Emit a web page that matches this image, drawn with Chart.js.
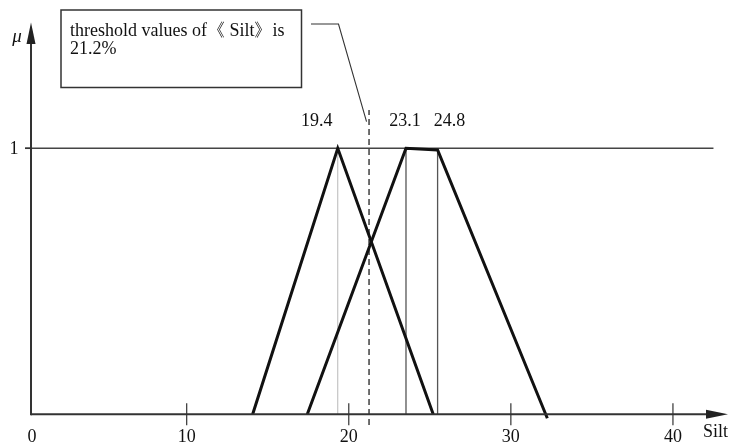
<!DOCTYPE html>
<html>
<head>
<meta charset="utf-8">
<style>
  html, body { margin: 0; padding: 0; background: #fff; }
  #wrap { width: 730px; height: 443px; position: relative; }
</style>
<script src="https://cdn.jsdelivr.net/npm/chart.js@4.4.1/dist/chart.umd.min.js"></script>
</head>
<body>
<div id="wrap"><canvas id="c" width="730" height="443"></canvas></div>
<script>
// ---- data ----
const tri1X = [14.07, 19.32, 25.21];
const tri1Y = [0, 1, 0];
const trapX = [17.44, 23.53, 25.48, 32.25];
const trapY = [0, 1, 0.994, -0.015];
const peakX = [19.32, 23.53, 25.48];
const peakLabels = ['19.4', '23.1', '24.8'];
const thresholdX = 21.25;
const xTicks = [10, 20, 30, 40];
const xTickLabels = ['10', '20', '30', '40'];
const yTicks = [1];
const yTickLabels = ['1'];
const originLabel = '0';
const xTitle = 'Silt';
const yTitle = 'μ';
const boxLines = ['threshold values of《 Silt》is', '21.2%'];

const SERIF = '"Liberation Serif", "Times New Roman", serif';

function pts(xs, ys) { return xs.map((x, i) => ({ x: x, y: ys[i] })); }

const datasets = [
  { label: 'tri', data: pts(tri1X, tri1Y), borderColor: '#111', borderWidth: 3, order: 1 },
  { label: 'trap', data: pts(trapX, trapY), borderColor: '#111', borderWidth: 3, order: 1 },
  { label: 'one', data: [{ x: 0.03, y: 1 }, { x: 42.5, y: 1 }], borderColor: '#444', borderWidth: 1.5, order: 5 },
  { label: 'v0', data: [{ x: peakX[0], y: 0 }, { x: peakX[0], y: 1 }], borderColor: '#b8b8b8', borderWidth: 1, order: 4 },
  { label: 'v1', data: [{ x: peakX[1], y: 0 }, { x: peakX[1], y: 1 }], borderColor: '#555', borderWidth: 1.3, order: 4 },
  { label: 'v2', data: [{ x: peakX[2], y: 0 }, { x: peakX[2], y: 0.994 }], borderColor: '#555', borderWidth: 1.3, order: 4 },
  { label: 'thr', data: [{ x: thresholdX, y: -0.04 }, { x: thresholdX, y: 1.144 }], borderColor: '#222', borderWidth: 1.3, borderDash: [6, 4], order: 3 }
];
datasets.forEach(d => { d.pointRadius = 0; d.fill = false; d.tension = 0; d.showLine = true; });

const decor = {
  id: 'decor',
  afterDatasetsDraw(chart) {
    const ctx = chart.ctx;
    const xs = chart.scales.x, ys = chart.scales.y;
    const X = v => xs.getPixelForValue(v);
    const Y = v => ys.getPixelForValue(v);
    const ax = X(0.395);   // y axis position
    const ay = Y(0);       // x axis position
    ctx.save();
    ctx.strokeStyle = '#333';
    ctx.fillStyle = '#222';
    // x axis
    ctx.lineWidth = 2;
    ctx.beginPath(); ctx.moveTo(ax, ay); ctx.lineTo(712, ay); ctx.stroke();
    ctx.beginPath(); ctx.moveTo(728, ay); ctx.lineTo(706, ay - 4.5); ctx.lineTo(706, ay + 4.5); ctx.closePath(); ctx.fill();
    // y axis
    ctx.beginPath(); ctx.moveTo(ax, ay + 1); ctx.lineTo(ax, 40); ctx.stroke();
    ctx.beginPath(); ctx.moveTo(ax, 22.5); ctx.lineTo(ax - 4.5, 44); ctx.lineTo(ax + 4.5, 44); ctx.closePath(); ctx.fill();
    // x ticks
    ctx.lineWidth = 1.2;
    ctx.strokeStyle = '#333';
    xTicks.forEach(t => { ctx.beginPath(); ctx.moveTo(X(t), ay - 11); ctx.lineTo(X(t), ay + 11); ctx.stroke(); });
    // y tick stub
    yTicks.forEach(t => { ctx.lineWidth = 1.5; ctx.beginPath(); ctx.moveTo(ax - 6, Y(t)); ctx.lineTo(ax, Y(t)); ctx.stroke(); });
    // labels
    ctx.fillStyle = '#111';
    ctx.font = '18px ' + SERIF;
    ctx.textAlign = 'center';
    ctx.textBaseline = 'alphabetic';
    ctx.fillText(originLabel, ax + 1, 442);
    xTicks.forEach((t, i) => ctx.fillText(xTickLabels[i], X(t), 442));
    ctx.textAlign = 'left';
    ctx.fillText(xTitle, 703, 437);
    ctx.textAlign = 'center';
    yTicks.forEach((t, i) => ctx.fillText(yTickLabels[i], 14, Y(t) + 6));
    ctx.font = 'italic 19px ' + SERIF;
    ctx.fillText(yTitle, 17, 42);
    // peak labels
    ctx.font = '18px ' + SERIF;
    const dx = [-21, -1, 12];
    peakX.forEach((p, i) => ctx.fillText(peakLabels[i], X(p) + dx[i], 126));
    // annotation box
    ctx.lineWidth = 1.5;
    ctx.strokeStyle = '#333';
    ctx.strokeRect(61, 10, 240.5, 77.5);
    ctx.textAlign = 'left';
    ctx.fillText(boxLines[0], 70, 35.5);
    ctx.fillText(boxLines[1], 70, 54);
    // leader line
    ctx.lineWidth = 1.1;
    ctx.beginPath(); ctx.moveTo(311, 24); ctx.lineTo(338.5, 24); ctx.lineTo(X(thresholdX) - 2.5, Y(1.1)); ctx.stroke();
    ctx.restore();
  }
};

new Chart(document.getElementById('c'), {
  type: 'scatter',
  data: { datasets: datasets },
  options: {
    responsive: false,
    animation: false,
    events: [],
    layout: { padding: 0 },
    plugins: { legend: { display: false }, tooltip: { enabled: false } },
    scales: {
      x: { type: 'linear', display: false, min: -1.518, max: 43.52 },
      y: { type: 'linear', display: false, min: -0.1079, max: 1.5575 }
    }
  },
  plugins: [decor]
});
</script>
</body>
</html>
